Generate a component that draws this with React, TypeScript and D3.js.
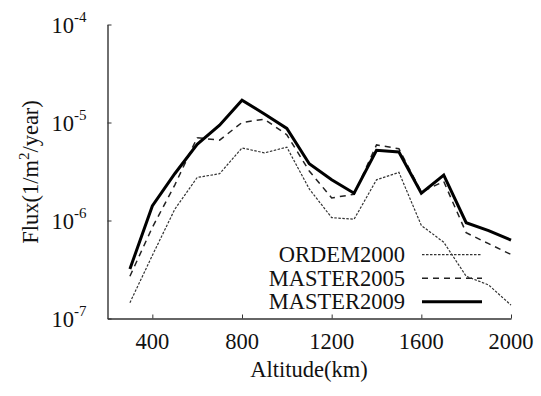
import { useEffect, useRef } from 'react';
import * as d3 from 'd3';

const altitudes = [300, 400, 500, 600, 700, 800, 900, 1000, 1100, 1200, 1300, 1400, 1500, 1600, 1700, 1800, 1900, 2000];

const ordem2000 = [1.45e-7, 4.4e-7, 1.3e-6, 2.75e-6, 3.0e-6, 5.5e-6, 4.9e-6, 5.6e-6, 2.1e-6, 1.07e-6, 1.03e-6, 2.6e-6, 3.1e-6, 8.9e-7, 6.0e-7, 2.7e-7, 2.2e-7, 1.37e-7];
const master2005 = [2.7e-7, 8.5e-7, 2.3e-6, 7.0e-6, 6.6e-6, 1.0e-5, 1.08e-5, 7.5e-6, 3.2e-6, 1.7e-6, 1.85e-6, 5.9e-6, 5.4e-6, 1.95e-6, 2.5e-6, 7.5e-7, 5.8e-7, 4.5e-7];
const master2009 = [3.2e-7, 1.41e-6, 3.0e-6, 6.0e-6, 9.4e-6, 1.69e-5, 1.22e-5, 8.7e-6, 3.8e-6, 2.6e-6, 1.9e-6, 5.2e-6, 5.0e-6, 1.9e-6, 2.9e-6, 9.5e-7, 7.9e-7, 6.3e-7];

const xTicks = [400, 800, 1200, 1600, 2000];
const yTicks = [1e-7, 1e-6, 1e-5, 1e-4];
const yTickExponents = ['-7', '-6', '-5', '-4'];

const seriesNames = ['ORDEM2000', 'MASTER2005', 'MASTER2009'];

const WIDTH = 541;
const HEIGHT = 396;
const textStyle = { fontFamily: "'Liberation Serif'", fontSize: 22.5 };

const x = d3.scaleLinear().domain([200, 2000]).range([107.5, 511]);
const y = d3.scaleLog().domain([1e-7, 1e-4]).range([318.5, 24.5]);

const styles = [
  { data: ordem2000, width: 1.2, dash: '2.5,1.5', color: '#333' },
  { data: master2005, width: 1.5, dash: '6,5', color: '#222' },
  { data: master2009, width: 3, dash: undefined, color: '#000' },
];

const line = d3.line<number>()
  .x((_, i) => x(altitudes[i]))
  .y((d) => y(d));

export default function App() {
  const xAxisRef = useRef<SVGGElement>(null);
  const yAxisRef = useRef<SVGGElement>(null);

  useEffect(() => {
    if (!xAxisRef.current || !yAxisRef.current) return;
    const xa = d3.select(xAxisRef.current);
    xa.selectAll('*').remove();
    xa.call(d3.axisBottom(x).tickValues(xTicks).tickSizeInner(-4).tickSizeOuter(0).tickFormat(() => ''));
    xa.select('.domain').attr('stroke', '#333').attr('stroke-width', 1.4);
    xa.selectAll('.tick line').attr('stroke', '#333').attr('stroke-width', 1);

    const ya = d3.select(yAxisRef.current);
    ya.selectAll('*').remove();
    ya.call(d3.axisLeft(y).tickValues(yTicks).tickSizeInner(-4).tickSizeOuter(0).tickFormat(() => ''));
    ya.select('.domain').attr('stroke', '#333').attr('stroke-width', 1.4);
    ya.selectAll('.tick line').attr('stroke', '#333').attr('stroke-width', 1);
  }, []);

  return (
    <svg width={WIDTH} height={HEIGHT} style={{ position: 'absolute', left: 0, top: 0, background: '#fff' }}>
      <g ref={xAxisRef} transform={`translate(0, ${y(1e-7)})`} />
      <g ref={yAxisRef} transform={`translate(${x(200)}, 0)`} />

      {xTicks.map((t) => (
        <text key={t} x={x(t)} y={y(1e-7) + 30.5} textAnchor="middle" fill="#111" style={textStyle}>
          {t}
        </text>
      ))}

      {yTicks.map((t, i) => (
        <text key={t} x={x(200) - 21} y={y(t) + 8} textAnchor="end" fill="#111" style={textStyle}>
          <tspan>10</tspan>
          <tspan dy={-11} style={{ fontSize: 15 }}>{yTickExponents[i]}</tspan>
        </text>
      ))}

      <text x={309} y={377} textAnchor="middle" fill="#111" style={textStyle}>Altitude(km)</text>
      <text transform="translate(38, 172) rotate(-90)" textAnchor="middle" fill="#111" style={textStyle}>
        <tspan>Flux(1/m</tspan>
        <tspan dy={-9} style={{ fontSize: 15 }}>2</tspan>
        <tspan dy={9}>/year)</tspan>
      </text>

      {styles.map((s, i) => (
        <path
          key={seriesNames[i]}
          d={line(s.data) ?? ''}
          fill="none"
          stroke={s.color}
          strokeWidth={s.width}
          strokeDasharray={s.dash}
        />
      ))}

      {seriesNames.map((name, i) => {
        const cy = 254.7 + i * 23.5;
        return (
          <g key={name}>
            <text x={405} y={cy + 7.5} textAnchor="end" fill="#111" style={textStyle}>{name}</text>
            <line
              x1={422}
              x2={482}
              y1={cy}
              y2={cy}
              stroke={styles[i].color}
              strokeWidth={styles[i].width}
              strokeDasharray={styles[i].dash}
            />
          </g>
        );
      })}
    </svg>
  );
}
